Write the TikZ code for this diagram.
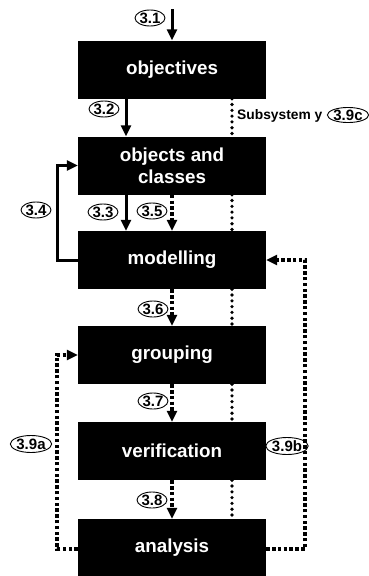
\documentclass[tikz,border=0pt]{standalone}
\usepackage{fontspec}
\setmainfont{Liberation Sans}
\usetikzlibrary{arrows.meta,shapes.geometric}
\begin{document}
\begin{tikzpicture}[x=1pt,y=-1pt,
  stepbox/.style={draw=none,fill=black,text=white,minimum width=188pt,minimum height=58pt,inner sep=0pt,align=center,font=\fontsize{18.8}{22}\selectfont\bfseries},
  lbl/.style={ellipse,draw,line width=0.9pt,inner sep=0pt,minimum width=30pt,minimum height=16pt,font=\fontsize{15}{15}\selectfont\bfseries},
  biglbl/.style={lbl,minimum width=37pt,minimum height=17pt},
  tip/.style={-{Triangle[width=10pt,length=11pt]}},
  solidflow/.style={line width=3pt},
  sqdots/.style={line width=3.5pt,dash pattern=on 3.5pt off 2.3pt},
  rddots/.style={line width=3.6pt,line cap=round,dash pattern=on 0pt off 5.8pt},
]
\useasboundingbox (0,0) rectangle (368,576);
\node[stepbox] (obj) at (172,69.5) {objectives};
\node[stepbox] (oac) at (172,165.5) {objects and\\classes};
\node[stepbox] (mod) at (172,260) {modelling};
\node[stepbox] (grp) at (172,355) {grouping};
\node[stepbox] (ver) at (172,451) {verification};
\node[stepbox] (ana) at (172,548) {analysis};

\coordinate (start) at (172,9);
\coordinate (l1) at (57,260);
\coordinate (l2) at (57,549);
\coordinate (r1) at (305,549);

% solid arrows
\draw[solidflow,tip] (start) -- (obj.north);
\draw[solidflow,tip] (obj.south -| 126,0) -- (oac.north -| 126,0);
\draw[solidflow,tip] (oac.south -| 126,0) -- (mod.north -| 126,0);
\draw[solidflow,tip] (mod.west) -- (l1) -- (l1 |- oac.west) -- (oac.west);

% square-dotted arrows
\draw[sqdots,tip] (oac.south) -- (mod.north);
\draw[sqdots,tip] (mod.south) -- (grp.north);
\draw[sqdots,tip] (grp.south) -- (ver.north);
\draw[sqdots,tip] (ver.south) -- (ana.north);
\draw[sqdots,tip] (ana.west |- l2) -- (l2) -- (l2 |- grp.west) -- (grp.west);
\draw[sqdots,tip] (ana.east |- r1) -- (r1) -- (r1 |- mod.east) -- (mod.east);

% subsystem dotted line
\draw[rddots] (obj.south -| 232,0) -- (oac.north -| 232,0);
\draw[rddots] (oac.south -| 232,0) -- (mod.north -| 232,0);
\draw[rddots] (mod.south -| 232,0) -- (grp.north -| 232,0);
\draw[rddots] (grp.south -| 232,0) -- (ver.north -| 232,0);
\draw[rddots] (ver.south -| 232,0) -- ([yshift=-12pt]ana.north -| 232,0);
\draw[line width=3pt,tip] ([yshift=-14pt]ana.north -| 232,0) -- (ana.north -| 232,0);

% labels
\node[lbl] (n31) at (150,18) {3.1};
\node[lbl] (n32) at (104,109) {3.2};
\node[lbl] (n34) at (36,210) {3.4};
\node[lbl] (n33) at (103,212) {3.3};
\node[lbl] (n35) at (152,211) {3.5};
\node[lbl] (n36) at (153,309) {3.6};
\node[lbl] (n37) at (153,401) {3.7};
\node[lbl] (n38) at (152,500) {3.8};
\node[biglbl] (n39a) at (31,444) {3.9a};
\node[biglbl] (n39b) at (287,446) {3.9b};
\node[lbl,minimum width=31pt,minimum height=15pt] (n39c) at (348,115) {3.9c};
\node[anchor=west,inner sep=0pt,font=\fontsize{13.8}{13.8}\selectfont\bfseries] (sub) at (237,116) {Subsystem y};
\end{tikzpicture}
\end{document}
